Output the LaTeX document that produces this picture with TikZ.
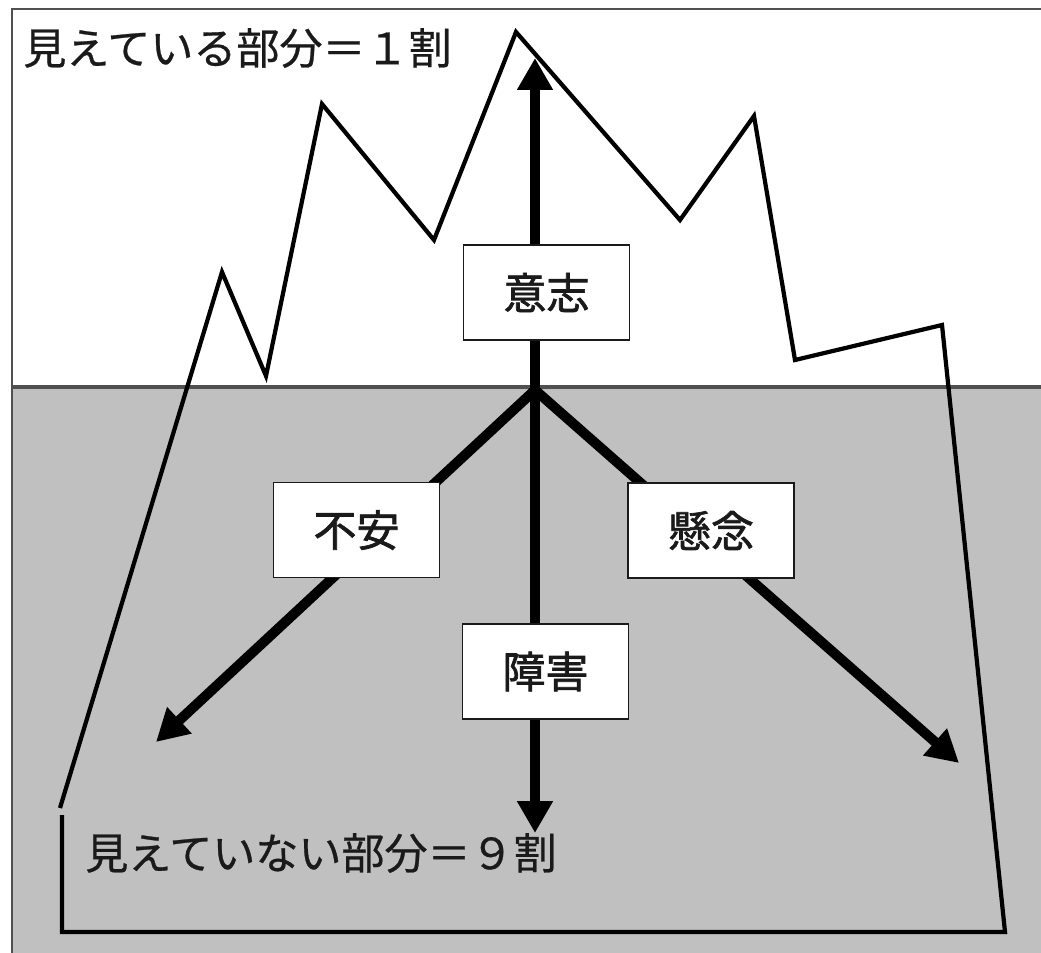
\documentclass[tikz,border=0pt]{standalone}
\usepackage{fontspec}
\newfontfamily\jp{Noto Sans CJK JP}[FakeBold=0.6]
\newfontfamily\jpb{Noto Sans CJK JP}[FakeBold=1.6]
\usetikzlibrary{arrows.meta}
\definecolor{seagray}{HTML}{C0C0C0}
\definecolor{framegray}{HTML}{505050}
\definecolor{inkc}{HTML}{1A1A1A}
\tikzset{
  labelbox/.style={draw=inkc, line width=0.9pt, fill=white, minimum width=3.32cm, minimum height=1.9cm, inner sep=0pt, font=\jpb\fontsize{24.5pt}{28pt}\selectfont, text=inkc},
  caption/.style={anchor=west, inner sep=0pt, font=\jp\fontsize{24.5pt}{28pt}\selectfont, text=inkc},
  bigarrow/.style={line width=0.2cm, draw=black, -{Triangle[length=0.64cm,width=0.68cm]}},
  berg/.style={line width=2.4pt, draw=black, line join=miter},
}
\begin{document}
\begin{tikzpicture}[x=0.02cm,y=-0.02cm]
\useasboundingbox (0,0) rectangle (1041,953);
% water
\fill[seagray] (12,387) rectangle (1041,953);
% frame
\draw[framegray, line width=1.6pt] (1041,9) -- (12,9) -- (12,953);
\draw[framegray, line width=1.8pt] (12,387) -- (1041,387);
% iceberg
\draw[berg] (62,815) -- (62,932) -- (1005,932) -- (942,325) -- (795,360) -- (754,116) -- (680,220) -- (516,32) -- (434,240) -- (322,104) -- (266,376) -- (222,272) -- (60,808);
% arrows
\coordinate (O) at (535,390);
\coordinate (up) at (535,58);
\coordinate (down) at (535,833);
\coordinate (left) at (156,742);
\coordinate (right) at (959,763);
\draw[bigarrow] (O) -- (up);
\draw[bigarrow] (O) -- (down);
\draw[bigarrow] (O) -- (left);
\draw[bigarrow] (O) -- (right);
% boxes
\node[labelbox] (will) at (546.5,292.5) {意志};
\node[labelbox] (anx) at (356.5,530) {不安};
\node[labelbox] (concern) at (711,530.5) {懸念};
\node[labelbox] (obst) at (545.5,671.5) {障害};
% captions
\node[caption] (visible) at (23,48) {見えている部分＝１割};
\node[caption] (hidden) at (85,853) {見えていない部分＝９割};
\end{tikzpicture}
\end{document}
